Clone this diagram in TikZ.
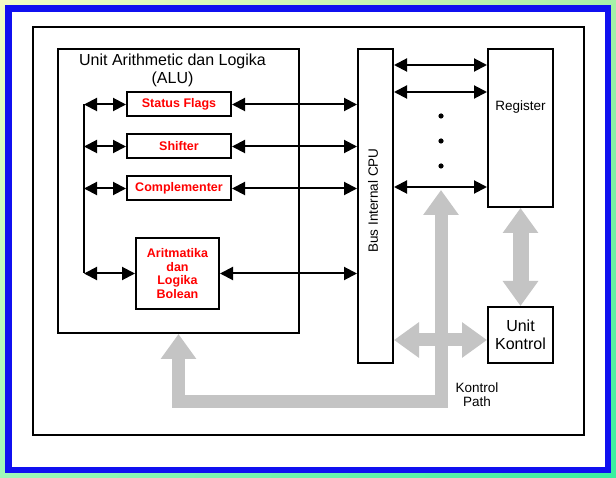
\documentclass[tikz,border=0pt]{standalone}
\usepackage{fontspec}
\setmainfont{Liberation Sans}
\usetikzlibrary{arrows.meta,shadings}
\definecolor{bgtl}{RGB}{242,253,196}
\definecolor{bgtr}{RGB}{168,240,168}
\definecolor{bgbl}{RGB}{160,248,184}
\definecolor{bgbr}{RGB}{56,240,160}
\definecolor{bordblue}{RGB}{16,16,240}
\definecolor{flowgray}{RGB}{196,196,196}
\tikzset{
    >={Triangle[length=13pt,width=13pt]},
    flowtip/.tip={Triangle[length=25pt,width=34pt]},
    unit/.style={
        draw,
        line width=2pt,
        inner sep=0pt
    },
    part/.style={
        unit,
        minimum width=104pt,
        minimum height=24pt,
        text=red,
        font=\fontsize{12.5}{13.7}\selectfont\bfseries
    },
    note/.style={
        inner sep=0pt,
        font=\fontsize{13.5}{14}\selectfont
    },
    big/.style={
        font=\fontsize{16}{18}\selectfont
    },
    link/.style={
        <->,
        line width=2pt
    },
    flow/.style={
        draw=flowgray,
        line width=13pt,
        flowtip-flowtip
    }
}

\begin{document}
\begin{tikzpicture}[x=1pt, y=-1pt]

    % Latar
    \useasboundingbox (0,0) rectangle (616,478);
    \shade[upper left=bgtl, upper right=bgtr,
           lower left=bgbl, lower right=bgbr] (0,0) rectangle (616,478);
    \draw[draw=bordblue, fill=white, line width=6.5pt] (8.5,8.5) rectangle (608,470);
    \draw[line width=2.4pt] (33,27) rectangle (584,435);

    % ALU
    \node[unit, minimum width=241pt, minimum height=284pt] (alu) at (178.5,191) {};
    \node[big, align=center, inner sep=0pt] (alulbl) at (172.5,70)
        {Unit Arithmetic dan Logika\\(ALU)};
    \node[part]                (flags) at (179,104.5) {Status Flags};
    \node[part]                (shift) at (179,146.5) {Shifter};
    \node[part]                (compl) at (179,188.5) {Complementer};
    \node[part, align=center,
          minimum width=83pt,
          minimum height=71pt] (bool)  at (177.5,273.5) {Aritmatika\\dan\\Logika\\Bolean};

    % Bus, register, kontrol
    \node[unit, minimum width=35pt, minimum height=314pt] (bus) at (375.5,206) {};
    \node[note, rotate=90] (buslbl) at (373,200.5) {Bus Internal CPU};
    \node[unit, minimum width=65pt, minimum height=158pt] (reg) at (520.5,128) {};
    \node[note] (reglbl) at (520.5,107) {Register};
    \node[unit, big, align=center,
          minimum width=65pt, minimum height=56pt] (ctrl) at (520.5,335) {Unit\\Kontrol};
    \node[note, align=center] (kplbl) at (477,395) {Kontrol\\Path};

    \foreach \y in {116,141,166}
        \fill (441,\y) circle (2.6pt);

    % Titik bantu
    \coordinate (spine) at (84,105);
    \coordinate (kp) at (441,190);
    \coordinate (kb) at (441,401);
    \coordinate (kh) at (0,340);
    \coordinate (r1) at (0,65);
    \coordinate (r2) at (0,92);
    \coordinate (r3) at (0,187);

    % Jalur kontrol
    \draw[flow] (alu.south) |- (kb) -- (kp);
    \draw[flow] (bus.east |- kh) -- (ctrl.west |- kh);
    \draw[flow, line width=16pt] (reg.south) -- (ctrl.north);

    % Jalur data
    \draw[line width=2pt] (flags.west -| spine) -- (bool.west -| spine);
    \draw[link] (flags.west -| spine) -- (flags.west);
    \draw[link] (shift.west -| spine) -- (shift.west);
    \draw[link] (compl.west -| spine) -- (compl.west);
    \draw[link] (bool.west -| spine)  -- (bool.west);

    \draw[link] (flags.east) -- (flags.east -| bus.west);
    \draw[link] (shift.east) -- (shift.east -| bus.west);
    \draw[link] (compl.east) -- (compl.east -| bus.west);
    \draw[link] (bool.east)  -- (bool.east -| bus.west);

    \draw[link] (bus.east |- r1) -- (reg.west |- r1);
    \draw[link] (bus.east |- r2) -- (reg.west |- r2);
    \draw[link] (bus.east |- r3) -- (reg.west |- r3);

\end{tikzpicture}
\end{document}
